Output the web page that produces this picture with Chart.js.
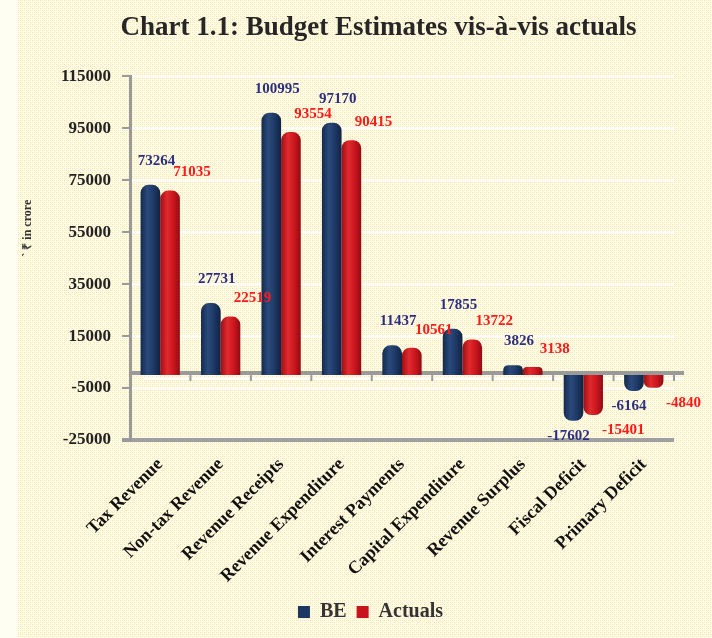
<!DOCTYPE html>
<html>
<head>
<meta charset="utf-8">
<script src="https://cdn.jsdelivr.net/npm/chart.js@4.4.1/dist/chart.umd.min.js"></script>
<style>
  html, body { margin: 0; padding: 0; background: #fffef2; }
  #wrap { width: 712px; height: 638px; }
</style>
</head>
<body>
<div id="wrap"><canvas id="budget-chart" width="712" height="638"></canvas></div>
<script>
const categories = ["Tax Revenue", "Non-tax Revenue", "Revenue Receipts", "Revenue Expenditure",
    "Interest Payments", "Capital Expenditure", "Revenue Surplus", "Fiscal Deficit", "Primary Deficit"];
const beValues = [73264, 27731, 100995, 97170, 11437, 17855, 3826, -17602, -6164];
const actualValues = [71035, 22519, 93554, 90415, 10561, 13722, 3138, -15401, -4840];
const yTicks = [-25000, -5000, 15000, 35000, 55000, 75000, 95000, 115000];

const serif = '"Liberation Serif", "Times New Roman", serif';
const navy = '#1d3763';
const red = '#c8141c';

// light yellow checked background like the original
function makePattern() {
    const c = document.createElement('canvas');
    c.width = 4; c.height = 4;
    const g = c.getContext('2d');
    g.fillStyle = '#fffbe6';
    g.fillRect(0, 0, 4, 4);
    g.fillStyle = '#f8e6a6';
    g.fillRect(0, 0, 1, 1);
    g.fillRect(2, 2, 1, 1);
    g.fillStyle = '#fbefc4';
    g.fillRect(2, 0, 1, 1);
    g.fillRect(0, 2, 1, 1);
    return g.createPattern(c, 'repeat');
}

const backgroundPlugin = {
    id: 'bg',
    beforeDraw(chart) {
        // title and legend sit a bit right of centre in the original
        if (!chart.$shifted) {
            chart.titleBlock.left += 33;
            chart.titleBlock.right += 33;
            chart.legend.left += 25;
            chart.legend.right += 25;
            chart.$shifted = true;
        }
        const ctx = chart.ctx;
        ctx.save();
        ctx.fillStyle = '#fffef2';
        ctx.fillRect(0, 0, chart.width, chart.height);
        ctx.fillStyle = makePattern();
        ctx.fillRect(17, 0, chart.width - 17, chart.height);
        ctx.restore();
    }
};

// cylinder shading + zero "floor"
const shadePlugin = {
    id: 'shade',
    beforeDatasetsDraw(chart) {
        const ctx = chart.ctx;
        const area = chart.chartArea;
        const y0 = chart.scales.y.getPixelForValue(0);
        ctx.save();
        ctx.strokeStyle = '#9a9a9a';
        ctx.lineWidth = 4;
        ctx.beginPath();
        ctx.moveTo(area.left, y0 - 2);
        ctx.lineTo(area.right + 10, y0 - 2);
        ctx.stroke();
        ctx.strokeStyle = '#ffffff';
        ctx.lineWidth = 2;
        ctx.beginPath();
        ctx.moveTo(area.left + 14, y0 + 4);
        ctx.lineTo(area.right + 10, y0 + 4);
        ctx.stroke();
        ctx.strokeStyle = '#9a9a9a';
        const xs = chart.scales.x;
        for (let i = 0; i <= categories.length; i++) {
            const x = xs.getPixelForValue(i - 0.5);
            ctx.beginPath();
            ctx.moveTo(x, y0);
            ctx.lineTo(x, y0 + 6);
            ctx.stroke();
        }
        ctx.restore();

        chart.data.datasets.forEach((ds, di) => {
            const meta = chart.getDatasetMeta(di);
            meta.data.forEach(el => {
                const p = el.getProps(['x', 'width']);
                const g = ctx.createLinearGradient(p.x - p.width / 2, 0, p.x + p.width / 2, 0);
                if (di === 0) {
                    g.addColorStop(0, '#142a4d');
                    g.addColorStop(0.35, '#2a4a7c');
                    g.addColorStop(0.7, '#1d3763');
                    g.addColorStop(1, '#10223f');
                } else {
                    g.addColorStop(0, '#9e0e14');
                    g.addColorStop(0.35, '#e02a2e');
                    g.addColorStop(0.7, '#c8141c');
                    g.addColorStop(1, '#8e0c12');
                }
                el.options = Object.assign({}, el.options, {backgroundColor: g});
            });
        });
    }
};

// value labels placed like the Excel ones
const labelPlugin = {
    id: 'valueLabels',
    afterDatasetsDraw(chart) {
        const ctx = chart.ctx;
        ctx.save();
        ctx.font = 'bold 15px ' + serif;
        ctx.textAlign = 'center';
        ctx.textBaseline = 'middle';
        chart.data.datasets.forEach((ds, di) => {
            const meta = chart.getDatasetMeta(di);
            meta.data.forEach((el, i) => {
                const v = ds.data[i];
                ctx.fillStyle = di === 0 ? '#2b2f80' : '#ff1a1a';
                let x, y;
                if (v >= 0) {
                    x = el.x + (di === 0 ? 6 : 22);
                    y = el.y - (di === 0 ? 24 : 18);
                } else {
                    x = el.x + (di === 0 ? -5 : 30);
                    y = el.y + 15;
                }
                ctx.fillText(String(v), x, y);
            });
        });
        ctx.restore();
    }
};

new Chart(document.getElementById('budget-chart').getContext('2d'), {
    type: 'bar',
    data: {
        labels: categories,
        datasets: [
            {
                label: 'BE',
                data: beValues,
                backgroundColor: navy,
                borderRadius: 8,
                borderSkipped: 'start',
                categoryPercentage: 0.65,
                barPercentage: 1.0
            },
            {
                label: 'Actuals',
                data: actualValues,
                backgroundColor: red,
                borderRadius: 8,
                borderSkipped: 'start',
                categoryPercentage: 0.65,
                barPercentage: 1.0
            }
        ]
    },
    options: {
        responsive: false,
        animation: false,
        devicePixelRatio: 1,
        layout: { padding: { left: 17, right: 38, top: 4, bottom: 6 } },
        plugins: {
            title: {
                display: true,
                text: 'Chart 1.1: Budget Estimates vis-à-vis actuals',
                color: '#262626',
                font: { family: serif, size: 27, weight: 'bold' },
                padding: { top: 8, bottom: 32 }
            },
            legend: {
                position: 'bottom',
                labels: {
                    color: '#333',
                    boxWidth: 12,
                    boxHeight: 12,
                    padding: 10,
                    font: { family: serif, size: 20, weight: 'bold' }
                }
            },
            tooltip: { enabled: false }
        },
        scales: {
            x: {
                grid: { display: false },
                border: { display: false },
                ticks: {
                    color: '#111',
                    maxRotation: 45,
                    minRotation: 45,
                    padding: 6,
                    font: { family: serif, size: 18, weight: 'bold' }
                },
                afterFit(scale) { scale.height = 152; }
            },
            y: {
                min: -25000,
                max: 115000,
                afterBuildTicks(scale) { scale.ticks = yTicks.map(v => ({value: v})); },
                grid: {
                    color: c => c.index === 0 ? '#a0a0a0' : '#ffffff',
                    lineWidth: c => c.index === 0 ? 4 : 2,
                    drawTicks: true,
                    tickLength: 8,
                    tickColor: '#9a9a9a'
                },
                border: { display: true, color: '#9a9a9a', width: 3 },
                ticks: {
                    color: '#222',
                    padding: 11,
                    callback: v => String(v),
                    font: { family: serif, size: 17, weight: 'bold' }
                },
                title: {
                    display: true,
                    // leading em spaces lift the text, as in the original
                    text: '\u2003\u2003\u2003\u2003\u2003` ₹ in crore',
                    color: '#333',
                    font: { family: serif, size: 12, weight: 'bold' },
                    padding: { bottom: 12 }
                },
                afterFit(scale) { scale.width = 113; }
            }
        }
    },
    plugins: [backgroundPlugin, shadePlugin, labelPlugin]
});
</script>
</body>
</html>
